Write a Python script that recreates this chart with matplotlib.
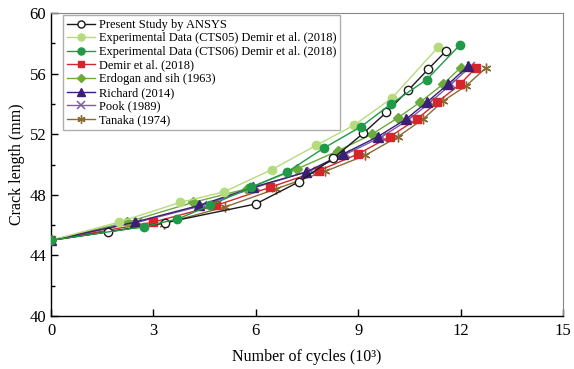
import matplotlib
matplotlib.use("Agg")
import matplotlib.pyplot as plt

plt.rcParams['font.family'] = ['Liberation Serif', 'DejaVu Serif']

ansys_x = [0, 1.67, 3.34, 6.0, 7.27, 8.26, 9.14, 9.82, 10.46, 11.05, 11.57]
ansys_y = [45, 45.56, 46.16, 47.4, 48.87, 50.4, 52.05, 53.44, 54.9, 56.3, 57.5]

cts05_x = [0, 1.99, 3.78, 5.07, 6.47, 7.76, 8.88, 9.99, 11.34]
cts05_y = [45, 46.2, 47.5, 48.2, 49.67, 51.26, 52.6, 54.4, 57.75]

cts06_x = [0, 2.72, 3.7, 4.66, 5.86, 6.91, 8.0, 9.08, 9.96, 11.0, 11.98]
cts06_y = [45, 45.9, 46.4, 47.3, 48.5, 49.5, 51.1, 52.5, 54.0, 55.6, 57.9]

demir_x = [0, 3.0, 4.83, 6.42, 7.85, 9.0, 9.93, 10.72, 11.31, 11.98, 12.45]
demir_y = [45, 46.2, 47.3, 48.5, 49.6, 50.7, 51.85, 53.0, 54.1, 55.3, 56.4]

erdogan_x = [0, 2.23, 4.16, 5.74, 7.2, 8.4, 9.4, 10.17, 10.8, 11.48, 12.0]
erdogan_y = [45, 46.2, 47.5, 48.4, 49.7, 50.9, 52.0, 53.1, 54.1, 55.3, 56.4]

richard_x = [0, 2.46, 4.34, 5.92, 7.47, 8.56, 9.58, 10.4, 11.0, 11.63, 12.22]
richard_y = [45, 46.2, 47.3, 48.5, 49.5, 50.7, 51.85, 53.0, 54.1, 55.3, 56.5]

pook_x = [0, 2.55, 4.45, 6.0, 7.6, 8.65, 9.7, 10.5, 11.1, 11.72, 12.3]
pook_y = [45, 46.2, 47.3, 48.5, 49.6, 50.7, 51.85, 53.0, 54.1, 55.3, 56.5]

tanaka_x = [0, 3.3, 5.1, 6.6, 8.03, 9.2, 10.17, 10.9, 11.49, 12.16, 12.75]
tanaka_y = [45, 46.1, 47.2, 48.4, 49.55, 50.6, 51.85, 53.0, 54.2, 55.2, 56.4]

x_ticks = [0, 3, 6, 9, 12, 15]
y_ticks = [40, 44, 48, 52, 56, 60]

fig = plt.figure(figsize=(5.74, 3.69), dpi=100)
ax = fig.add_axes([0.089, 0.1436, 0.892, 0.821])

ms = 6.0
lw = 1.0
ax.plot(ansys_x, ansys_y, '-o', color='#1a1a1a', mfc='white', mec='#1a1a1a', ms=ms, lw=lw,
        label='Present Study by ANSYS', zorder=6)
ax.plot(cts05_x, cts05_y, '-o', color='#b5db7c', mec='#b5db7c', ms=ms, lw=lw,
        label='Experimental Data (CTS05) Demir et al. (2018)', zorder=5)
ax.plot(cts06_x, cts06_y, '-o', color='#1f9a48', mec='#1f9a48', ms=ms, lw=lw,
        label='Experimental Data (CTS06) Demir et al. (2018)', zorder=7)
ax.plot(demir_x, demir_y, '-s', color='#d4262b', mec='#d4262b', ms=ms - 0.5, lw=lw,
        label='Demir et al. (2018)', zorder=4)
ax.plot(erdogan_x, erdogan_y, '-D', color='#6aab3c', mec='#6aab3c', ms=ms - 1, lw=lw,
        label='Erdogan and sih (1963)', zorder=4)
ax.plot(richard_x, richard_y, '-^', color='#3b1f76', mec='#3b1f76', ms=ms + 0.5, lw=lw,
        label='Richard (2014)', zorder=4)
ax.plot(pook_x, pook_y, '-x', color='#7b5ca8', mec='#7b5ca8', ms=ms, lw=lw, mew=1.1,
        label='Pook (1989)', zorder=3)
ax.plot(tanaka_x, tanaka_y, color='#8a6a33', mec='#8a6a33', ms=ms + 1, lw=lw,
        label='Tanaka (1974)', zorder=3, marker=(6, 2, 0), mew=1.0)

ax.set_xlim(0, 15)
ax.set_ylim(40, 60)
ax.set_xticks(x_ticks)
ax.set_yticks(y_ticks)
ax.set_yticks([42, 46, 50, 54, 58], minor=True)
ax.tick_params(axis='both', which='both', direction='in', labelsize=12, top=False, right=False)
ax.tick_params(axis='both', which='major', length=5, width=1)
ax.tick_params(axis='x', which='major', pad=5)
ax.tick_params(axis='y', which='minor', length=3, width=1)

for s in ['top', 'right']:
    ax.spines[s].set_color('#888888')
for s in ['left', 'bottom']:
    ax.spines[s].set_color('black')
    ax.spines[s].set_linewidth(1.0)

ax.set_xlabel('Number of cycles (10³)', fontsize=11.5, labelpad=7)
ax.set_ylabel('Crack length (mm)', fontsize=11.5, labelpad=3)

leg = ax.legend(loc='upper left', bbox_to_anchor=(0.023, 0.993), fontsize=8.9, frameon=True,
                fancybox=False, edgecolor='#999999', borderpad=0.3, labelspacing=0.13,
                markerscale=0.85, handlelength=2.3, handletextpad=0.3, borderaxespad=0.0)
leg.get_frame().set_linewidth(1.0)

fig.savefig('out.png', dpi=100)
